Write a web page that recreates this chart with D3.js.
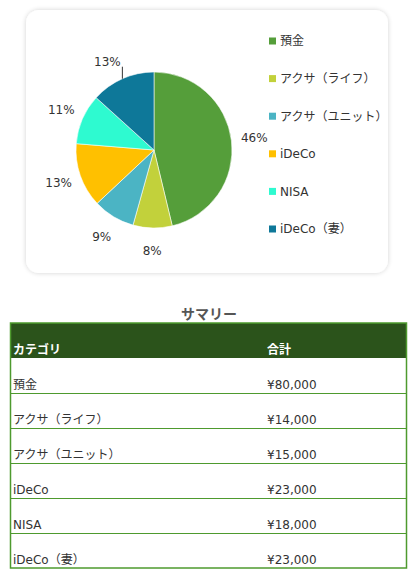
<!DOCTYPE html>
<html><head><meta charset="utf-8">
<script src="https://cdn.jsdelivr.net/npm/d3@7"></script>
<style>
html,body{margin:0;padding:0;background:#fff;}
svg{display:block;font-family:"DejaVu Sans","Noto Sans CJK JP",sans-serif;}
</style></head>
<body>
<svg id="c" width="418" height="582"></svg>
<script>
const categories = ["預金","アクサ（ライフ）","アクサ（ユニット）","iDeCo","NISA","iDeCo（妻）"];
const amounts = [80000,14000,15000,23000,18000,23000];
const colors = ["#559E3A","#C2D13B","#4BB4C4","#FFC000","#2EFAD0","#0E7899"];
const tableTitle = "サマリー";
const tableHeaders = ["カテゴリ","合計"];

const svg = d3.select("#c");
const defs = svg.append("defs");
const f = defs.append("filter").attr("id","sh").attr("x","-10%").attr("y","-10%").attr("width","120%").attr("height","120%");
f.append("feGaussianBlur").attr("in","SourceAlpha").attr("stdDeviation",2.5);
f.append("feOffset").attr("dx",0).attr("dy",0).attr("result","b");
f.append("feComponentTransfer").append("feFuncA").attr("type","linear").attr("slope",0.18);
const fm = f.append("feMerge"); fm.append("feMergeNode"); fm.append("feMergeNode").attr("in","SourceGraphic");

// card
svg.append("rect").attr("x",26).attr("y",10).attr("width",362).attr("height",263)
  .attr("rx",13).attr("fill","#fff").attr("filter","url(#sh)");

// percentages via largest remainder
const total = d3.sum(amounts);
const raw = amounts.map(v=>v/total*100);
const pct = raw.map(Math.floor);
let rem = 100 - d3.sum(pct);
raw.map((v,i)=>({i,r:v-Math.floor(v)})).sort((a,b)=>b.r-a.r).slice(0,rem).forEach(o=>pct[o.i]++);

const cx=154, cy=150, r=78;
const g = svg.append("g").attr("transform",`translate(${cx},${cy})`);
const pie = d3.pie().sort(null).value(d=>d)(amounts);
const arc = d3.arc().innerRadius(0).outerRadius(r);
g.selectAll("path").data(pie).join("path").attr("d",arc)
  .attr("fill",(d,i)=>colors[i]).attr("stroke","#fff").attr("stroke-width",0.8).attr("stroke-opacity",0.7);

const labelArc = d3.arc().innerRadius(r+23).outerRadius(r+23);
const edgeArc = d3.arc().innerRadius(r).outerRadius(r);
pie.forEach((d,i)=>{
  let [x,y] = labelArc.centroid(d);
  if(i===pie.length-1){
    const [ex,ey] = edgeArc.centroid(d);
    g.append("line").attr("x1",ex).attr("y1",ey).attr("x2",ex).attr("y2",ey-12)
      .attr("stroke","#333").attr("stroke-width",1);
    x = ex-15; y = ey-17;
  }
  g.append("text").attr("x",x).attr("y",y).attr("dy","0.35em").attr("text-anchor","middle")
    .attr("font-size",12).attr("fill","#333").text(pct[i]+"%");
});

// legend
const ly = d3.scalePoint().domain(categories).range([41,229]);
const lg = svg.append("g");
categories.forEach((c,i)=>{
  lg.append("rect").attr("x",269).attr("y",ly(c)-3.5).attr("width",7).attr("height",7).attr("fill",colors[i]);
  lg.append("text").attr("x",280).attr("y",ly(c)).attr("dy","0.36em").attr("font-size",12)
    .attr("fill","#333").text(c);
});

// table
svg.append("text").attr("x",209).attr("y",319).attr("text-anchor","middle").attr("font-size",14)
  .attr("font-weight","bold").attr("fill","#555").attr("font-family","Noto Sans CJK JP").text(tableTitle);
const tx0=10.5, tx1=406.5, ty0=323, rh=35, col2=267;
const nRows = categories.length;
svg.append("rect").attr("x",tx0).attr("y",ty0).attr("width",tx1-tx0).attr("height",rh).attr("fill","#2B531B");
tableHeaders.forEach((h,j)=>{
  svg.append("text").attr("x",j===0?13:col2).attr("y",ty0+rh-4).attr("font-size",12).attr("font-weight","bold")
    .attr("fill","#fff").text(h);
});
const fmt = v=>"¥"+d3.format(",")(v);
categories.forEach((c,i)=>{
  const yb = ty0+rh*(i+2);
  svg.append("text").attr("x",13).attr("y",yb-4).attr("font-size",12).attr("fill","#333").text(c);
  svg.append("text").attr("x",col2).attr("y",yb-4).attr("font-size",12).attr("fill","#333").text(fmt(amounts[i]));
  if(i<nRows-1) svg.append("line").attr("x1",tx0).attr("x2",tx1).attr("y1",yb+0.5).attr("y2",yb+0.5)
    .attr("stroke","#4E9A2E").attr("stroke-width",1);
});
svg.append("rect").attr("x",tx0).attr("y",ty0).attr("width",tx1-tx0).attr("height",rh*(nRows+1))
  .attr("fill","none").attr("stroke","#4E9A2E").attr("stroke-width",1.5);
</script>
</body></html>
